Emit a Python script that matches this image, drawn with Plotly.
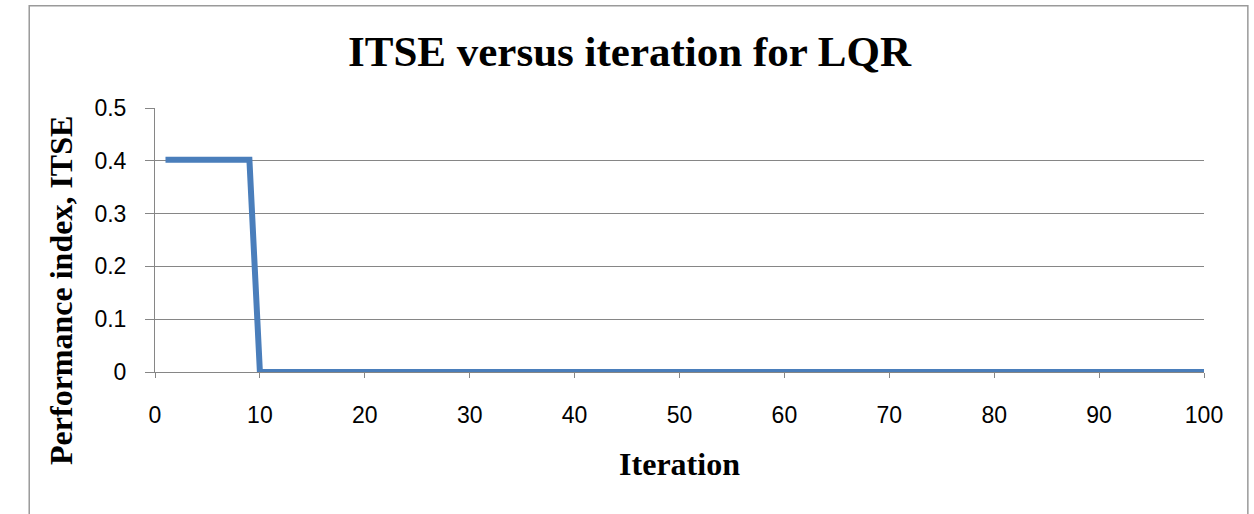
import plotly.graph_objects as go

# ITSE performance index recorded at each LQR iteration
iterations = list(range(1, 101))
itse_initial = [0.402, 0.402, 0.402, 0.402, 0.402, 0.402, 0.402, 0.402, 0.402]
itse_converged = [0.0] * 91
itse = itse_initial + itse_converged

x_ticks = [0, 10, 20, 30, 40, 50, 60, 70, 80, 90, 100]
y_ticks = [0, 0.1, 0.2, 0.3, 0.4, 0.5]

grid = "#868686"
serif = "Liberation Serif, Times New Roman, serif"
sans = "Liberation Sans, Arial, sans-serif"

fig = go.Figure()
fig.add_trace(go.Scatter(
    x=iterations, y=itse, mode="lines",
    line=dict(color="#4A7EBB", width=6),
    showlegend=False, hoverinfo="x+y",
))

fig.update_layout(
    width=1254, height=514,
    margin=dict(l=155, r=50, t=108, b=142),
    paper_bgcolor="white", plot_bgcolor="white",
    title=dict(text="<b>ITSE versus iteration for LQR</b>",
               x=0.502, xanchor="center", y=0.9, yanchor="middle",
               font=dict(family=serif, size=43, color="black")),
    xaxis=dict(
        range=[0, 100], tickvals=x_ticks, ticktext=[str(v) for v in x_ticks],
        showgrid=False, zeroline=False,
        showline=True, linecolor=grid, linewidth=1,
        ticks="outside", ticklen=5, tickcolor=grid, tickwidth=1,
        ticklabelstandoff=17,
        tickfont=dict(family=sans, size=23, color="black"),
        title=dict(text="<b>Iteration</b>", standoff=26,
                   font=dict(family=serif, size=32, color="black")),
    ),
    yaxis=dict(
        range=[0, 0.5], tickvals=y_ticks, ticktext=["0", "0.1", "0.2", "0.3", "0.4", "0.5"],
        showgrid=True, gridcolor=grid, gridwidth=1, zeroline=False,
        showline=True, linecolor=grid, linewidth=1,
        ticks="outside", ticklen=9, tickcolor=grid, tickwidth=1,
        ticklabelstandoff=14,
        tickfont=dict(family=sans, size=23, color="black"),
    ),
    annotations=[dict(text="<b>Performance index, ITSE</b>", textangle=-90,
                      xref="paper", yref="paper", x=-0.0896, y=0.307,
                      xanchor="center", yanchor="middle", showarrow=False,
                      font=dict(family=serif, size=32, color="black"))],
    shapes=[dict(type="rect", xref="paper", yref="paper",
                 x0=-0.1199, x1=1.0418, y0=-0.55, y1=1.387,
                 line=dict(color="#9A9A9A", width=1.5), layer="below")],
)

fig.write_html("out.html")
